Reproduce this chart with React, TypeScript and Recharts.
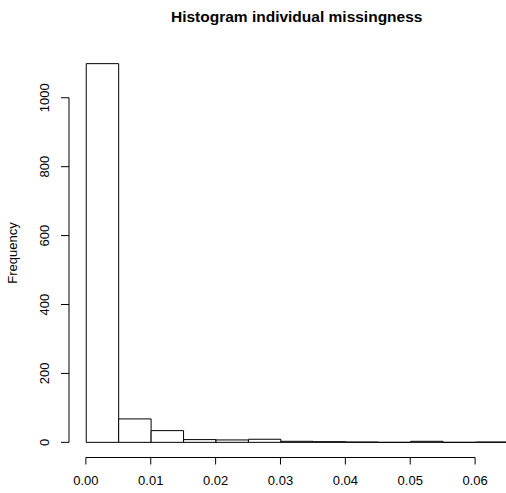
import React from 'react';
import { ComposedChart, Bar, XAxis, YAxis, ReferenceLine } from 'recharts';

// histogram bins (width 0.005) and their counts
const binStarts = [0, 0.005, 0.01, 0.015, 0.02, 0.025, 0.03, 0.035, 0.04, 0.045, 0.05, 0.055, 0.06];
const counts = [1099, 68, 34, 8, 7, 9, 3, 2, 1, 0, 3, 0, 1];
const binWidth = 0.005;

const xTicks = [0, 0.01, 0.02, 0.03, 0.04, 0.05, 0.06];
const yTicks = [0, 200, 400, 600, 800, 1000];

const data = binStarts.map((s, i) => ({ mid: s + binWidth / 2, count: counts[i] }));

// R-style 4% axis extension
const xLo = binStarts[0];
const xHi = binStarts[binStarts.length - 1] + binWidth;
const xPad = (xHi - xLo) * 0.04;
const yMax = Math.max(...counts);
const yPad = yMax * 0.04;
const xDomain: [number, number] = [xLo - xPad, xHi + xPad];
const yDomain: [number, number] = [-yPad, yMax + yPad];

const W = 525;
const H = 493;
const M = { top: 48.5, right: 0.6, left: 0, bottom: 0 };
const Y_AXIS_W = 69;
const X_AXIS_H = 35.5;
const plotW = W - M.left - M.right - Y_AXIS_W;
const barPx = (plotW * binWidth) / (xDomain[1] - xDomain[0]);

const FONT = '"Liberation Sans", Arial, Helvetica, sans-serif';

// bars touch each other: keep recharts' centre, use the full bin width.
// path instead of rect so empty bins still show as a flat line
const HistBar = (props: any) => {
  const { x, y, width, height } = props;
  const cx = x + width / 2;
  const left = cx - barPx / 2;
  const top = Math.min(y, y + height);
  const bot = Math.max(y, y + height);
  return (
    <path
      d={`M${left},${bot}H${left + barPx}V${top}H${left}Z`}
      fill="#fff"
      stroke="#000"
      strokeWidth={1}
    />
  );
};

const XTick = (props: any) => {
  const { x, y, payload } = props;
  return (
    <text x={x} y={y + 20} textAnchor="middle" fontSize={13} fontFamily={FONT} fill="#000">
      {payload.value.toFixed(2)}
    </text>
  );
};

const YTick = (props: any) => {
  const { x, y, payload } = props;
  const bx = x - 11.5;
  return (
    <text x={bx} y={y} transform={`rotate(-90 ${bx} ${y})`} textAnchor="middle" fontSize={13} fontFamily={FONT} fill="#000">
      {payload.value}
    </text>
  );
};

export default function App() {
  return (
    <div style={{ position: 'absolute', left: 0, top: 0, width: 506, height: 493, overflow: 'hidden', background: '#fff' }}>
      <ComposedChart width={W} height={H} data={data} margin={M} barCategoryGap={0} barGap={0}>
        <XAxis
          type="number"
          dataKey="mid"
          domain={xDomain}
          ticks={xTicks}
          interval={0}
          height={X_AXIS_H}
          axisLine={false}
          tickLine={{ stroke: '#000' }}
          tickSize={7}
          tickMargin={0}
          tick={<XTick />}
        />
        <YAxis
          type="number"
          domain={yDomain}
          ticks={yTicks}
          interval={0}
          width={Y_AXIS_W}
          axisLine={false}
          tickLine={{ stroke: '#000' }}
          tickSize={8}
          tickMargin={0}
          tick={<YTick />}
        />
        <ReferenceLine
          segment={[{ x: xTicks[0], y: yDomain[0] }, { x: xTicks[xTicks.length - 1], y: yDomain[0] }]}
          stroke="#000"
          ifOverflow="visible"
        />
        <ReferenceLine
          segment={[{ x: xDomain[0], y: yTicks[0] }, { x: xDomain[0], y: yTicks[yTicks.length - 1] }]}
          stroke="#000"
          ifOverflow="visible"
        />
        <Bar dataKey="count" barSize={barPx} shape={<HistBar />} isAnimationActive={false} />
      </ComposedChart>
      <svg width={506} height={493} style={{ position: 'absolute', left: 0, top: 0, pointerEvents: 'none' }}>
        <text x={296.7} y={22} textAnchor="middle" fontSize={15.5} fontWeight="bold" fontFamily={FONT} fill="#000">
          Histogram individual missingness
        </text>
        <text x={16.5} y={253} transform="rotate(-90 16.5 253)" textAnchor="middle" fontSize={13} fontFamily={FONT} fill="#000">
          Frequency
        </text>
      </svg>
    </div>
  );
}
